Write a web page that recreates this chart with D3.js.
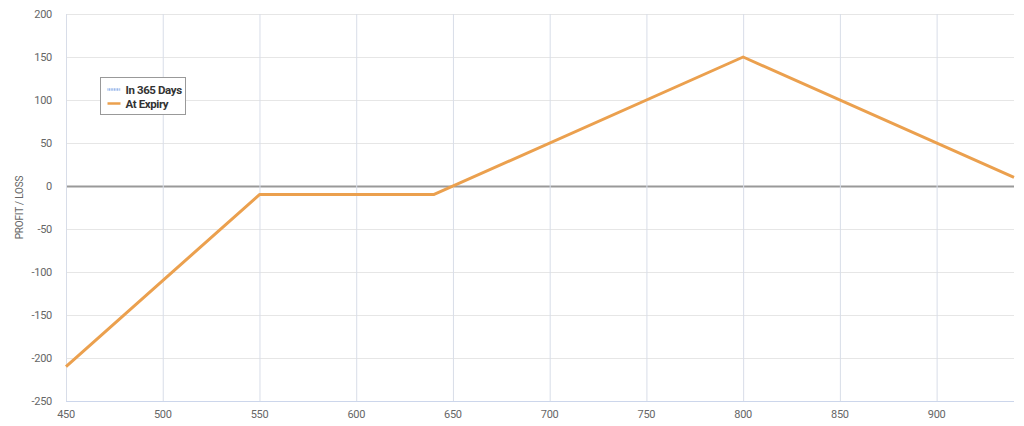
<!DOCTYPE html>
<html>
<head>
<meta charset="utf-8">
<script src="https://cdn.jsdelivr.net/npm/d3@7"></script>
<style>
  body { margin: 0; background: #fff; }
  text { font-family: "Roboto", sans-serif; }
</style>
</head>
<body>
<script>
const w = 1024;
const h = 426;

// price points and P/L at expiry
const prices = [450, 550, 640, 800, 940];
const expiryPL = [-210, -10, -10, 150, 10];
const xTicks = [450, 500, 550, 600, 650, 700, 750, 800, 850, 900];
const yTicks = [-250, -200, -150, -100, -50, 0, 50, 100, 150, 200];
const legendNames = ["In 365 Days", "At Expiry"];
const legendColors = ["#8fb0e8", "#eba04e"];

const margin = { left: 66, right: 10, top: 14, bottom: 25 };

const svg = d3
  .select("body")
  .append("svg")
  .attr("width", w)
  .attr("height", h);

const x = d3.scaleLinear().domain([450, 940]).range([margin.left, w - margin.right]);
const y = d3.scaleLinear().domain([-250, 200]).range([h - margin.bottom, margin.top]);

// horizontal grid
svg
  .selectAll(".hgrid")
  .data(yTicks)
  .enter()
  .append("line")
  .attr("x1", x(450))
  .attr("x2", x(940))
  .attr("y1", (d) => y(d) + 0.5)
  .attr("y2", (d) => y(d) + 0.5)
  .attr("stroke", (d) => (d === 0 ? "#999" : "#e6e6e6"))
  .attr("stroke-width", (d) => (d === 0 ? 2 : 1));

// vertical grid
svg
  .selectAll(".vgrid")
  .data(xTicks)
  .enter()
  .append("line")
  .attr("x1", (d) => x(d) + 0.5)
  .attr("x2", (d) => x(d) + 0.5)
  .attr("y1", y(200))
  .attr("y2", y(-250))
  .attr("stroke", "#d8dde8");

// bottom axis line
svg
  .append("line")
  .attr("x1", x(450))
  .attr("x2", x(940))
  .attr("y1", y(-250) + 0.5)
  .attr("y2", y(-250) + 0.5)
  .attr("stroke", "#ccd6eb");

// x tick labels
svg
  .selectAll(".xlab")
  .data(xTicks)
  .enter()
  .append("text")
  .attr("x", (d) => x(d))
  .attr("y", y(-250) + 17)
  .attr("text-anchor", "middle")
  .attr("font-size", 11)
  .attr("letter-spacing", -0.3)
  .attr("fill", "#666")
  .text((d) => d);

// y tick labels
svg
  .selectAll(".ylab")
  .data(yTicks)
  .enter()
  .append("text")
  .attr("x", 52)
  .attr("y", (d) => y(d) + 4)
  .attr("text-anchor", "end")
  .attr("font-size", 11)
  .attr("letter-spacing", -0.3)
  .attr("fill", "#666")
  .text((d) => d);

// y axis title
svg
  .append("text")
  .attr("transform", `translate(23, ${(y(200) + y(-250)) / 2}) rotate(-90)`)
  .attr("text-anchor", "middle")
  .attr("font-size", 10)
  .attr("letter-spacing", -0.2)
  .attr("fill", "#666")
  .text("PROFIT / LOSS");

// expiry line
const line = d3
  .line()
  .x((d) => x(d[0]))
  .y((d) => y(d[1]));

svg
  .append("path")
  .datum(prices.map((p, i) => [p, expiryPL[i]]))
  .attr("d", line)
  .attr("fill", "none")
  .attr("stroke", legendColors[1])
  .attr("stroke-width", 3)
  .attr("stroke-linejoin", "round");

// legend
const legend = svg.append("g").attr("transform", "translate(100.5, 77.5)");
legend
  .append("rect")
  .attr("width", 85)
  .attr("height", 37)
  .attr("fill", "#fff")
  .attr("stroke", "#999");

const item = legend
  .selectAll(".item")
  .data(legendNames)
  .enter()
  .append("g")
  .attr("transform", (d, i) => `translate(0, ${12 + i * 14})`);

item
  .append("line")
  .attr("x1", 7)
  .attr("x2", 20)
  .attr("stroke", (d, i) => legendColors[i])
  .attr("stroke-width", 2.5)
  .attr("stroke-dasharray", (d, i) => (i === 0 ? "1,0.6" : null));

item
  .append("text")
  .attr("x", 25)
  .attr("y", 4)
  .attr("font-size", 11.5)
  .attr("font-weight", "bold")
  .attr("letter-spacing", -0.4)
  .attr("fill", "#333")
  .text((d) => d);
</script>
</body>
</html>
